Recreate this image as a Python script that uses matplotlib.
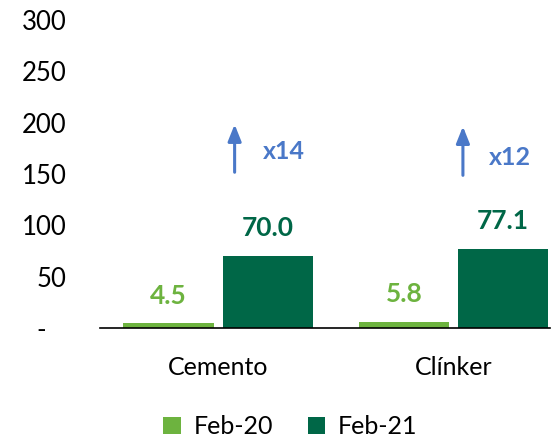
import matplotlib.pyplot as plt
import numpy as np

plt.rcParams['font.family'] = ['Lato', 'DejaVu Sans']

categories = ['Cemento', 'Clínker']
series_names = ['Feb-20', 'Feb-21']
feb20 = [4.5, 5.8]
feb21 = [70.0, 77.1]
growth = ['x14', 'x12']
yticks = [0, 50, 100, 150, 200, 250, 300]
ytick_labels = ['-   ', '50', '100', '150', '200', '250', '300']

LIGHT = '#6DB33F'
DARK = '#006747'
BLUE = '#4A78C8'

fig = plt.figure(figsize=(5.53, 4.38), dpi=100)
ax = fig.add_axes([100 / 553, 110 / 438, 450 / 553, 308 / 438])

x = np.arange(len(categories))
w = 0.383
off = 0.211
b1 = ax.bar(x - off, feb20, w, color=LIGHT, label=series_names[0])
b2 = ax.bar(x + off, feb21, w, color=DARK, label=series_names[1])

for bars, vals, col in [(b1, feb20, LIGHT), (b2, feb21, DARK)]:
    for b, v in zip(bars, vals):
        ax.annotate('{:.1f}'.format(v), (b.get_x() + b.get_width() / 2, v),
                    xytext=(0, 20), textcoords='offset points',
                    ha='center', va='center', fontsize=19, fontweight='bold', color=col)

# growth arrows
arrow_x = [0.07, 1.04]
arrow_y0 = [149, 146]
arrow_y1 = [201, 199]
text_x = [0.19, 1.15]
text_y = [172, 166]
for i in range(len(categories)):
    ax.annotate('', xy=(arrow_x[i], arrow_y1[i]), xytext=(arrow_x[i], arrow_y0[i]),
                arrowprops=dict(arrowstyle='-|>,head_width=0.4,head_length=1.0',
                                color=BLUE, lw=2.2))
    ax.text(text_x[i], text_y[i], growth[i], color=BLUE, fontsize=18,
            fontweight='bold', ha='left', va='center')

ax.set_xlim(-0.502, 1.41)
ax.set_ylim(0, 300)
ax.set_yticks(yticks)
ax.set_yticklabels(ytick_labels)
ax.set_xticks(x)
ax.set_xticklabels(categories)
ax.tick_params(axis='y', length=0, pad=24, labelsize=18.5)
ax.tick_params(axis='x', length=0, pad=20, labelsize=18)
for s in ['top', 'right', 'left']:
    ax.spines[s].set_visible(False)
ax.spines['bottom'].set_color('black')
ax.spines['bottom'].set_linewidth(1.2)

fig.legend(loc='lower center', bbox_to_anchor=(0.525, -0.052), ncol=2, frameon=False,
           fontsize=18, handlelength=0.7, handleheight=0.7, columnspacing=1.4,
           handletextpad=0.5)

fig.savefig('out.png', dpi=100)
